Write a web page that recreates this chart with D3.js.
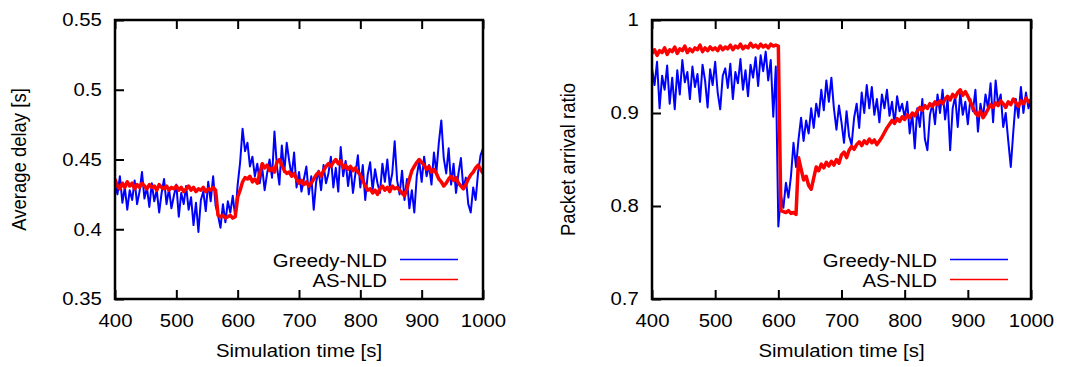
<!DOCTYPE html>
<html>
<head>
<meta charset="utf-8">
<script src="https://cdn.jsdelivr.net/npm/d3@7"></script>
<style>
    body { margin: 0; background: #fff; }
    text { font-family: "Liberation Sans", Arial, Helvetica, sans-serif; fill: #000; }
</style>
</head>
<body>
<svg id="chart" width="1067" height="367"></svg>
<script>
"use strict";

// Sample times: one value every 4 s of simulation time.
const times = d3.range(400, 1001, 4);

const timeTicks = [400, 500, 600, 700, 800, 900, 1000];
const delayTicks = [0.35, 0.4, 0.45, 0.5, 0.55];
const ratioTicks = [0.7, 0.8, 0.9, 1];

const seriesNames = ["Greedy-NLD", "AS-NLD"];

// Average delay [s]
const delayGreedy = [
    0.433, 0.425, 0.438, 0.419, 0.430, 0.414, 0.428, 0.421, 0.435, 0.418, 0.427, 0.441, 0.422, 0.430, 0.416, 0.433, 0.420, 0.428, 0.412, 0.426, 0.436, 0.418, 0.429, 0.415, 0.424,
    0.432, 0.409, 0.426, 0.418, 0.431, 0.414, 0.423, 0.403, 0.419, 0.398, 0.421, 0.427, 0.413, 0.434, 0.420, 0.438, 0.417, 0.410, 0.401, 0.418, 0.405, 0.420, 0.412, 0.424, 0.409,
    0.432, 0.448, 0.472, 0.456, 0.462, 0.445, 0.452, 0.438, 0.447, 0.433, 0.444, 0.428, 0.440, 0.450, 0.437, 0.470, 0.445, 0.432, 0.460, 0.441, 0.462, 0.449, 0.438, 0.455, 0.430,
    0.441, 0.427, 0.436, 0.445, 0.425, 0.438, 0.414, 0.434, 0.442, 0.428, 0.446, 0.433, 0.440, 0.452, 0.430, 0.444, 0.427, 0.459, 0.438, 0.449, 0.431, 0.445, 0.426, 0.440, 0.453,
    0.430, 0.446, 0.421, 0.439, 0.448, 0.428, 0.443, 0.433, 0.426, 0.447, 0.434, 0.450, 0.431, 0.440, 0.463, 0.435, 0.425, 0.442, 0.421, 0.436, 0.415, 0.428, 0.412, 0.438, 0.449,
    0.434, 0.452, 0.438, 0.446, 0.432, 0.455, 0.441, 0.462, 0.478, 0.451, 0.440, 0.458, 0.432, 0.447, 0.426, 0.440, 0.451, 0.429, 0.437, 0.418, 0.412, 0.430, 0.421, 0.441, 0.453,
    0.458
];
const delayAS = [
    0.436, 0.431, 0.429, 0.433, 0.430, 0.434, 0.431, 0.433, 0.429, 0.432, 0.430, 0.433, 0.431, 0.429, 0.432, 0.430, 0.431, 0.428, 0.432, 0.430, 0.429, 0.431, 0.428, 0.430, 0.429,
    0.431, 0.428, 0.430, 0.427, 0.429, 0.431, 0.428, 0.430, 0.427, 0.429, 0.428, 0.430, 0.427, 0.429, 0.428, 0.430, 0.428, 0.410, 0.409, 0.410, 0.408, 0.409, 0.410, 0.408, 0.409,
    0.423, 0.428, 0.434, 0.437, 0.436, 0.438, 0.434, 0.436, 0.433, 0.440, 0.447, 0.444, 0.446, 0.442, 0.444, 0.441, 0.448, 0.450, 0.446, 0.442, 0.440, 0.441, 0.438, 0.440, 0.436,
    0.433, 0.435, 0.432, 0.434, 0.431, 0.433, 0.436, 0.439, 0.441, 0.438, 0.442, 0.445, 0.447, 0.445, 0.448, 0.450, 0.447, 0.449, 0.444, 0.446, 0.443, 0.445, 0.442, 0.444, 0.441,
    0.439, 0.435, 0.431, 0.428, 0.429, 0.426, 0.428, 0.425, 0.429, 0.431, 0.428, 0.430, 0.427, 0.431, 0.429, 0.430, 0.428, 0.426, 0.424, 0.429, 0.436, 0.442, 0.445, 0.448, 0.450,
    0.448, 0.446, 0.443, 0.445, 0.441, 0.443, 0.440, 0.436, 0.434, 0.431, 0.433, 0.436, 0.438, 0.435, 0.437, 0.433, 0.431, 0.429, 0.432, 0.436, 0.439, 0.441, 0.444, 0.446, 0.443,
    0.440
];

// Packet arrival ratio
const ratioGreedy = [
    0.948, 0.930, 0.955, 0.905, 0.940, 0.925, 0.951, 0.910, 0.938, 0.904, 0.946, 0.920, 0.957, 0.933, 0.944, 0.915, 0.950, 0.928, 0.942, 0.912, 0.952, 0.935, 0.906, 0.947, 0.930,
    0.955, 0.922, 0.904, 0.940, 0.948, 0.927, 0.953, 0.915, 0.944, 0.932, 0.958, 0.925, 0.946, 0.918, 0.952, 0.938, 0.960, 0.929, 0.962, 0.945, 0.966, 0.935, 0.957, 0.896, 0.950,
    0.778, 0.812, 0.798, 0.825, 0.809, 0.832, 0.868, 0.842, 0.872, 0.895, 0.870, 0.892, 0.878, 0.905, 0.884, 0.910, 0.896, 0.925, 0.903, 0.935, 0.912, 0.938, 0.905, 0.882, 0.908,
    0.890, 0.868, 0.902, 0.875, 0.866, 0.895, 0.910, 0.884, 0.922, 0.900, 0.930, 0.905, 0.928, 0.898, 0.915, 0.890, 0.920, 0.905, 0.925, 0.897, 0.912, 0.888, 0.918, 0.902, 0.910,
    0.895, 0.912, 0.878, 0.900, 0.862, 0.905, 0.885, 0.915, 0.872, 0.860, 0.898, 0.910, 0.888, 0.920, 0.900, 0.925, 0.893, 0.915, 0.860, 0.905, 0.918, 0.885, 0.922, 0.898, 0.912,
    0.888, 0.915, 0.902, 0.925, 0.880, 0.910, 0.895, 0.920, 0.905, 0.932, 0.890, 0.935, 0.908, 0.920, 0.885, 0.900, 0.870, 0.842, 0.880, 0.915, 0.895, 0.928, 0.900, 0.922, 0.905,
    0.915
];
const ratioAS = [
    0.964, 0.968, 0.962, 0.967, 0.965, 0.970, 0.963, 0.968, 0.966, 0.971, 0.964, 0.969, 0.967, 0.972, 0.965, 0.969, 0.966, 0.970, 0.968, 0.973, 0.966, 0.970, 0.967, 0.971, 0.968,
    0.970, 0.967, 0.972, 0.968, 0.971, 0.969, 0.973, 0.968, 0.972, 0.970, 0.974, 0.969, 0.972, 0.970, 0.975, 0.971, 0.973, 0.970, 0.974, 0.971, 0.973, 0.970, 0.974, 0.972, 0.973,
    0.972, 0.795, 0.794, 0.793, 0.795, 0.792, 0.793, 0.791, 0.852, 0.840, 0.828, 0.832, 0.822, 0.818, 0.830, 0.842, 0.838, 0.845, 0.841, 0.847, 0.843, 0.848, 0.844, 0.850, 0.846,
    0.855, 0.858, 0.852, 0.860, 0.864, 0.861, 0.866, 0.869, 0.865, 0.870, 0.867, 0.872, 0.868, 0.871, 0.866, 0.870, 0.874, 0.879, 0.884, 0.888, 0.892, 0.889, 0.894, 0.891, 0.896,
    0.893, 0.898, 0.895, 0.900, 0.897, 0.902, 0.906, 0.903, 0.908, 0.905, 0.910, 0.907, 0.912, 0.909, 0.913, 0.910, 0.915, 0.918, 0.914, 0.920, 0.917, 0.922, 0.925, 0.919, 0.923,
    0.918, 0.912, 0.906, 0.900, 0.897, 0.902, 0.895, 0.899, 0.904, 0.909, 0.906, 0.911, 0.908, 0.913, 0.910, 0.906, 0.912, 0.909, 0.915, 0.911, 0.907, 0.913, 0.910, 0.916, 0.912,
    0.914
];

const SERIES_COLORS = ["#0000ff", "#ff0000"];
const SERIES_WIDTHS = [2, 3.5];     // the measured curves are dense, so they read as thick bands
const FONT_SIZE = 18.5;
const TEXT_STRETCH = 1.1;   // the picture is a little wider than tall
const TICK_LENGTH = 9;
const FRAME_WIDTH = 2.5;

const panels = [
    {
        key: "delay", left: 115, right: 483, top: 20, bottom: 299,
        domain: [0.35, 0.55], ticks: delayTicks, label: "Average delay [s]", labelX: 26,
        series: [delayGreedy, delayAS], legendTextX: 387, legendLine: [400, 458]
    },
    {
        key: "ratio", left: 652, right: 1031, top: 20, bottom: 299,
        domain: [0.7, 1], ticks: ratioTicks, label: "Packet arrival ratio", labelX: 575,
        series: [ratioGreedy, ratioAS], legendTextX: 937, legendLine: [950, 1008]
    }
];

let svg = d3.select("#chart");

/**
 * Gives the tick lines and labels of an axis the look of the original plot.
 */
function styleAxis(axis, labelTransform) {
    axis.attr("font-size", null).attr("font-family", null);
    axis.select(".domain").remove();
    axis.selectAll(".tick line").attr("stroke", "#000").attr("stroke-width", 2);
    axis.selectAll(".tick text")
        .attr("fill", "#000")
        .style("font-size", FONT_SIZE + "px")
        .attr("transform", labelTransform);
}

/**
 * Draws one of the two plots with its frame, axes, curves and key.
 */
function drawPanel(panel) {
    let x = d3.scaleLinear().domain([400, 1000]).range([panel.left, panel.right]);
    let y = d3.scaleLinear().domain(panel.domain).range([panel.bottom, panel.top]);
    let g = svg.append("g").attr("class", "panel_" + panel.key);

    g.append("clipPath")
        .attr("id", "clip_" + panel.key)
        .append("rect")
        .attr("x", panel.left)
        .attr("y", panel.top)
        .attr("width", panel.right - panel.left)
        .attr("height", panel.bottom - panel.top);

    // Curves: Greedy-NLD first, AS-NLD drawn on top.
    let line = d3.line()
        .x((d, i) => x(times[i]))
        .y(d => y(d));
    panel.series.forEach(function (values, k) {
        g.append("path")
            .datum(values)
            .attr("clip-path", "url(#clip_" + panel.key + ")")
            .attr("fill", "none")
            .attr("stroke", SERIES_COLORS[k])
            .attr("stroke-width", SERIES_WIDTHS[k])
            .attr("stroke-linejoin", "round")
            .attr("d", line);
    });

    // Axes with inward ticks; x ticks are mirrored on the top.
    let bottomAxis = g.append("g")
        .attr("transform", "translate(0," + panel.bottom + ")")
        .call(d3.axisBottom(x).tickValues(timeTicks).tickSizeInner(-TICK_LENGTH).tickSizeOuter(0)
            .tickPadding(15).tickFormat(d3.format("d")));
    styleAxis(bottomAxis, "scale(" + TEXT_STRETCH + ",1)");

    let topAxis = g.append("g")
        .attr("transform", "translate(0," + panel.top + ")")
        .call(d3.axisTop(x).tickValues(timeTicks).tickSizeInner(-TICK_LENGTH).tickSizeOuter(0).tickFormat(""));
    styleAxis(topAxis, null);

    let leftAxis = g.append("g")
        .attr("transform", "translate(" + panel.left + ",0)")
        .call(d3.axisLeft(y).tickValues(panel.ticks).tickSizeInner(-TICK_LENGTH).tickSizeOuter(0)
            .tickPadding(12).tickFormat(d3.format("~g")));
    styleAxis(leftAxis, "scale(" + TEXT_STRETCH + ",1)");

    g.append("rect")
        .attr("x", panel.left)
        .attr("y", panel.top)
        .attr("width", panel.right - panel.left)
        .attr("height", panel.bottom - panel.top)
        .attr("fill", "none")
        .attr("stroke", "#000")
        .attr("stroke-width", FRAME_WIDTH);

    // Axis titles.
    g.append("text")
        .attr("transform", "translate(" + ((panel.left + panel.right) / 2) + ",357) scale(" + TEXT_STRETCH + ",1)")
        .attr("text-anchor", "middle")
        .style("font-size", FONT_SIZE + "px")
        .text("Simulation time [s]");
    g.append("text")
        .attr("transform", "translate(" + panel.labelX + "," + ((panel.top + panel.bottom) / 2) + ") scale(" + TEXT_STRETCH + ",1) rotate(-90)")
        .attr("text-anchor", "middle")
        .style("font-size", FONT_SIZE + "px")
        .text(panel.label);

    // Key in the lower right corner.
    seriesNames.forEach(function (name, k) {
        let rowY = 259.5 + k * 20;
        g.append("text")
            .attr("transform", "translate(" + panel.legendTextX + "," + (rowY + 7) + ") scale(" + TEXT_STRETCH + ",1)")
            .attr("text-anchor", "end")
            .style("font-size", FONT_SIZE + "px")
            .text(name);
        g.append("line")
            .attr("x1", panel.legendLine[0])
            .attr("x2", panel.legendLine[1])
            .attr("y1", rowY)
            .attr("y2", rowY)
            .attr("stroke", SERIES_COLORS[k])
            .attr("stroke-width", 1.5);
    });
}

panels.forEach(drawPanel);
</script>
</body>
</html>
